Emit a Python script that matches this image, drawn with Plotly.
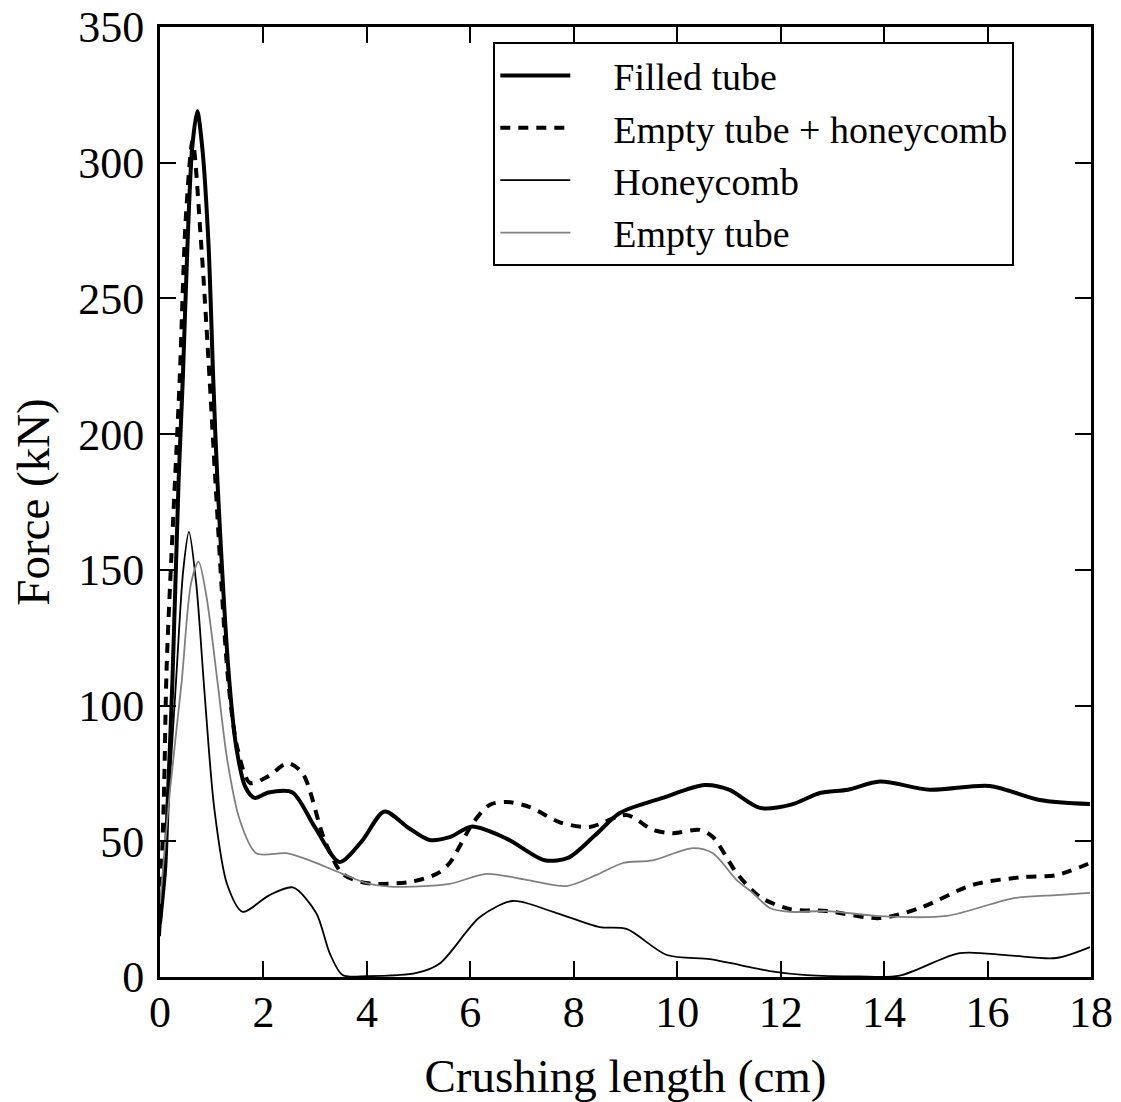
import plotly.graph_objects as go

# Crushing length (cm) and force (kN) for each configuration
filled_x = [0.0, 0.10, 0.15, 0.24, 0.36, 0.44, 0.53, 0.62, 0.72, 0.82, 0.94, 1.03, 1.11, 1.34, 1.48,
            1.65, 1.83, 2.1, 2.56, 3.0, 3.47, 3.9, 4.34, 4.8, 5.21, 5.6, 6.02, 6.7, 7.44, 7.9, 8.4,
            8.89, 9.72, 10.53, 11.0, 11.6, 12.2, 12.76, 13.3, 13.92, 14.88, 16.04, 17.01, 17.98]
filled_y = [20, 40, 65, 109, 183, 220, 269, 305, 319, 305, 269, 220, 183, 109, 84,
            70, 66, 68, 68, 55, 42.4, 50, 61, 55, 50.5, 51.5, 55.4, 51, 43, 44, 52,
            60.4, 66, 70.7, 69, 62.3, 63.5, 67.8, 69, 72, 69, 70.4, 65.2, 63.7]

combo_x = [0.0, 0.08, 0.13, 0.38, 0.5, 0.63, 0.80, 0.96, 1.07, 1.32, 1.5, 1.74, 2.1, 2.47, 2.76,
           3.18, 3.53, 3.99, 4.83, 5.35, 5.6, 6.05, 6.37, 6.7, 7.15, 7.73, 8.31, 9.02, 9.53, 9.91,
           10.44, 10.69, 11.15, 11.6, 12.18, 12.89, 13.92, 14.69, 15.72, 16.68, 17.33, 17.98]
combo_y = [20, 70, 115, 220, 280, 308, 269, 220, 183, 109, 84, 71.5, 74, 78.8, 75,
           50.5, 38, 34.6, 35, 38, 42, 56.7, 63.4, 64.5, 62.6, 57, 55.3, 59.7, 54.2, 53,
           54.2, 51.6, 38.3, 29.5, 25, 24.3, 21.7, 25.4, 34, 36.8, 37.5, 42]

honey_x = [0.0, 0.15, 0.31, 0.45, 0.56, 0.7, 0.86, 1.05, 1.3, 1.6, 2.1, 2.57, 3.02, 3.28, 3.53,
           4.0, 4.96, 5.41, 6.18, 6.82, 7.6, 8.5, 9.02, 9.8, 10.63, 11.21, 11.79, 12.5, 13.5,
           14.3, 15.46, 16.4, 17.33, 17.98]
honey_y = [15, 60, 109, 150, 164, 145, 105, 62, 34, 24, 30, 33, 23.6, 8.8, 0.7,
           0.3, 1.5, 5, 22, 28, 24, 18.4, 17.7, 8.1, 6.6, 4.4, 2.2, 0.7, 0.2,
           0.5, 8.8, 8.0, 7, 11]

empty_x = [0.0, 0.2, 0.42, 0.6, 0.745, 0.9, 1.11, 1.3, 1.54, 1.86, 2.44, 2.89, 3.53, 3.99, 4.44,
           5.6, 6.31, 7.08, 7.86, 8.44, 8.95, 9.53, 10.3, 10.69, 11.15, 11.46, 11.79, 12.18,
           12.89, 13.92, 15.21, 16.49, 17.33, 17.98]
empty_y = [27, 70, 109, 145, 153, 140, 109, 80, 58, 45.6, 45.6, 43, 38, 34.6, 33.3,
           34.3, 38, 35.8, 33.5, 37.6, 42, 43, 47.5, 45.6, 35.7, 31, 25.4, 24,
           24.3, 22.4, 22.5, 29, 30.2, 31]

x_ticks = [0, 2, 4, 6, 8, 10, 12, 14, 16, 18]
y_ticks = [0, 50, 100, 150, 200, 250, 300, 350]

FONT = "Liberation Serif"
PAD = "\u00a0\u00a0\u00a0\u00a0"  # spacing between legend key and label

fig = go.Figure()
fig.add_trace(go.Scatter(x=filled_x, y=filled_y, mode="lines", name=PAD + "Filled tube",
                         line=dict(color="black", width=4, shape="spline", smoothing=0.8)))
fig.add_trace(go.Scatter(x=combo_x, y=combo_y, mode="lines", name=PAD + "Empty tube + honeycomb",
                         line=dict(color="black", width=4, dash="10px,8px", shape="spline", smoothing=0.8)))
fig.add_trace(go.Scatter(x=honey_x, y=honey_y, mode="lines", name=PAD + "Honeycomb",
                         line=dict(color="black", width=1.8, shape="spline", smoothing=0.8)))
fig.add_trace(go.Scatter(x=empty_x, y=empty_y, mode="lines", name=PAD + "Empty tube",
                         line=dict(color="#808080", width=1.8, shape="spline", smoothing=0.8)))

axis_common = dict(
    showline=True, linewidth=3, linecolor="black", mirror="ticks",
    ticks="inside", ticklen=16, tickwidth=1.5, tickcolor="black",
    showgrid=False, zeroline=False, automargin=False,
    tickfont=dict(family=FONT, size=44, color="black"),
    title_font=dict(family=FONT, size=47, color="black"),
)

fig.update_xaxes(range=[0, 18], tickvals=x_ticks, title_text="Crushing length (cm)",
                 ticklabelstandoff=-6, title_standoff=26, **axis_common)
fig.update_yaxes(range=[0, 350], tickvals=y_ticks, title_text="Force (kN)",
                 ticklabelstandoff=4, title_standoff=14, **axis_common)

fig.update_layout(
    width=1121, height=1102,
    margin=dict(l=160, r=30, t=27, b=125),
    plot_bgcolor="white", paper_bgcolor="white",
    font=dict(family=FONT, color="black"),
    legend=dict(x=0.358, y=0.984, xanchor="left", yanchor="top",
                bgcolor="white", bordercolor="black", borderwidth=2,
                font=dict(family=FONT, size=38, color="black"),
                itemwidth=70, tracegroupgap=0),
)

fig.write_html("out.html")
